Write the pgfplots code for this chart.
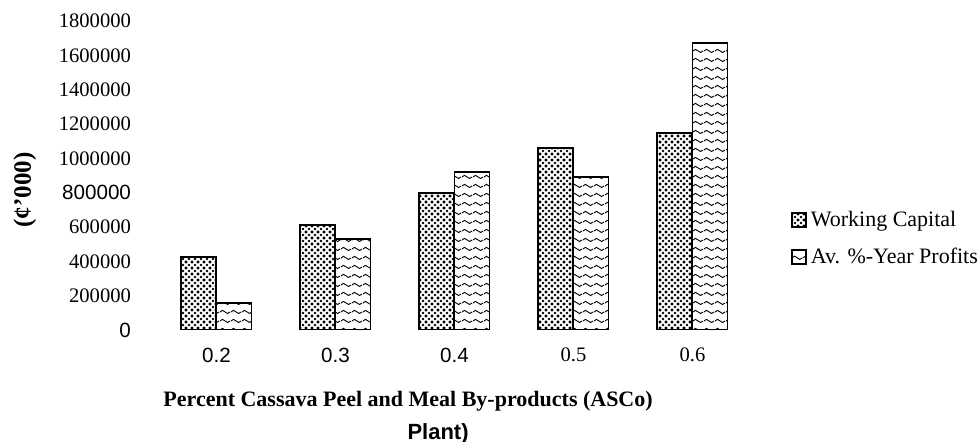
\documentclass[border=0pt]{standalone}
\usepackage{fontspec}
\setmainfont{Liberation Serif}
\setsansfont{Liberation Sans}
\usepackage{pgfplots}
\pgfplotsset{compat=1.18}
\usetikzlibrary{patterns}
\pgfdeclarepatternformonly{waves}{\pgfpoint{0pt}{0pt}}{\pgfpoint{5.5pt}{4.5pt}}{\pgfpoint{5.5pt}{4.5pt}}{%
  \pgfsetlinewidth{0.5pt}%
  \pgfpathmoveto{\pgfpoint{0pt}{2.25pt}}%
  \pgfpathcurveto{\pgfpoint{1.0pt}{3.4pt}}{\pgfpoint{1.75pt}{3.4pt}}{\pgfpoint{2.75pt}{2.25pt}}%
  \pgfpathcurveto{\pgfpoint{3.75pt}{1.1pt}}{\pgfpoint{4.5pt}{1.1pt}}{\pgfpoint{5.5pt}{2.25pt}}%
  \pgfusepath{stroke}}
\pgfdeclarepatternformonly{densedots}{\pgfpoint{-0.8pt}{-0.8pt}}{\pgfpoint{3.8pt}{3.8pt}}{\pgfpoint{3pt}{3pt}}{%
  \pgfpathcircle{\pgfpoint{0pt}{0pt}}{0.72pt}%
  \pgfpathcircle{\pgfpoint{1.5pt}{1.5pt}}{0.72pt}%
  \pgfpathcircle{\pgfpoint{3pt}{0pt}}{0.72pt}%
  \pgfpathcircle{\pgfpoint{0pt}{3pt}}{0.72pt}%
  \pgfpathcircle{\pgfpoint{3pt}{3pt}}{0.72pt}%
  \pgfusepath{fill}}
\begin{document}
\begin{tikzpicture}
\useasboundingbox (-78.5pt,-56pt) rectangle (410.5pt,165pt);
\begin{axis}[
  at={(0,0)}, anchor=south west,
  scale only axis, width=297.5pt, height=154.5pt,
  ybar=0pt, bar width=17.5pt,
  xmin=-0.5, xmax=4.5, ymin=0, ymax=1800000,
  xtick={0,1,2,3,4},
  xticklabels={\textsf{0.2},\textsf{0.3},\textsf{0.4},0.5,0.6},
  ytick={0,200000,400000,600000,800000,1000000,1200000,1400000,1600000,1800000},
  yticklabels={\textsf{0},200000,400000,600000,\textsf{800000},1000000,1200000,1400000,1600000,1800000},
  scaled y ticks=false,
  axis line style={draw=none},
  major tick length=0pt,
  tick label style={font=\fontsize{10.3}{12}\selectfont},
  yticklabel style={xshift=-9.5pt},
  xticklabel style={yshift=-5.5pt},
  every axis y label/.style={at={(axis description cs:-0.222,0.453)}, rotate=90, anchor=center, font=\bfseries\fontsize{12.5}{14}\selectfont},
  ylabel={(¢'000)},
  every axis x label/.style={at={(axis description cs:0.422,0)}, anchor=north, yshift=-27pt, align=center, font=\bfseries\fontsize{11}{13}\selectfont},
  xlabel={Percent Cassava Peel and Meal By-products (ASCo)\\[3.5pt]\hspace*{30pt}\textsf{Plant)}},
  legend style={draw=none, fill=none, at={(1.065,0.40)}, anchor=north west, row sep=5.5pt, font=\fontsize{11}{13}\selectfont, inner sep=0pt, nodes={inner sep=2pt}},
  legend cell align=left,
  legend image code/.code={\draw[#1, line width=0.9pt] (-1.5pt,-3.5pt) rectangle (5.5pt,3.5pt);},
]
\addplot[draw=black, line width=1pt, pattern=densedots] coordinates {(0,425000) (1,612000) (2,799000) (3,1061000) (4,1149000)};
\addplot[draw=black, line width=0.9pt, pattern=waves] coordinates {(0,157000) (1,530000) (2,921000) (3,892000) (4,1673000)};
\legend{Working Capital, Av. \%-Year Profits}
\end{axis}
\end{tikzpicture}
\end{document}
